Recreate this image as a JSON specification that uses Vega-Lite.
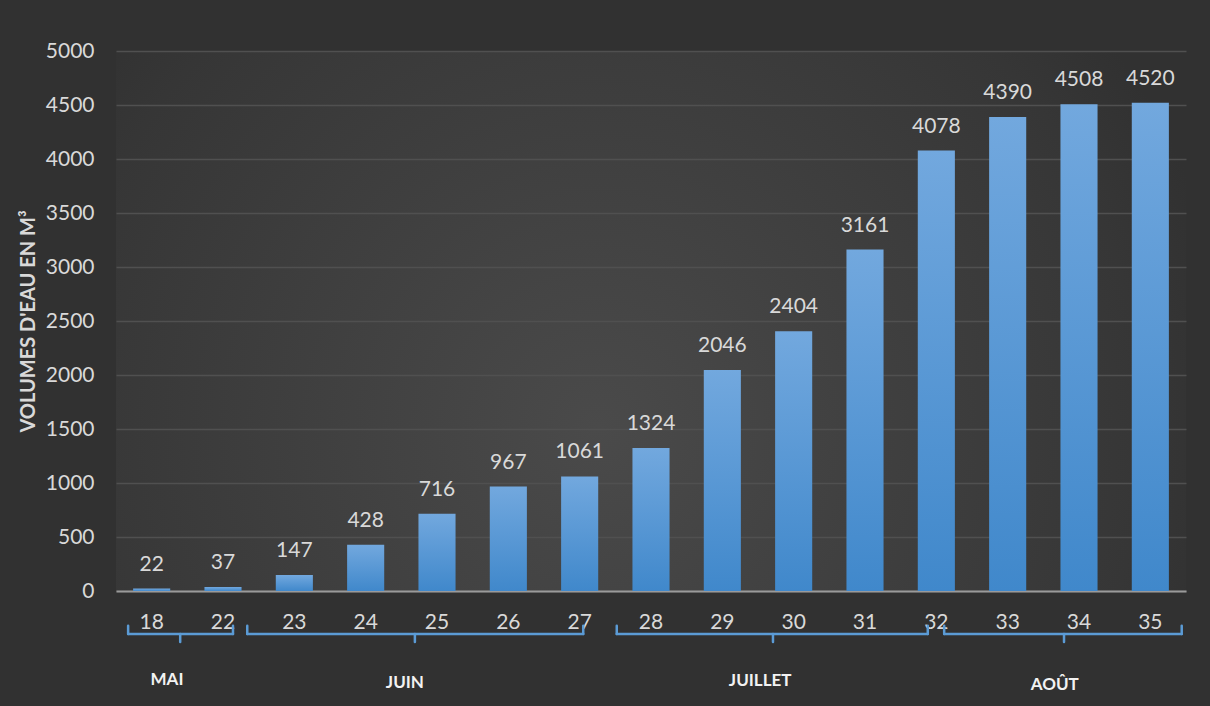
{
  "$schema": "https://vega.github.io/schema/vega-lite/v6.json",
  "width": 1070,
  "height": 540,
  "autosize": {"type": "none"},
  "padding": {"left": 116, "top": 51, "right": 24, "bottom": 115},
  "background": "#313131",
  "config": {
    "font": "Lato",
    "view": {
      "stroke": null,
      "fill": {
        "gradient": "radial",
        "x1": 0.45, "y1": 0.6, "x2": 0.45, "y2": 0.6, "r1": 0, "r2": 0.6,
        "stops": [
          {"offset": 0, "color": "#4a4a4a"},
          {"offset": 0.85, "color": "#363636"},
          {"offset": 1, "color": "#313131"}
        ]
      }
    }
  },
  "datasets": {
    "weeks": [
      {"semaine": "18", "volume": 22},
      {"semaine": "22", "volume": 37},
      {"semaine": "23", "volume": 147},
      {"semaine": "24", "volume": 428},
      {"semaine": "25", "volume": 716},
      {"semaine": "26", "volume": 967},
      {"semaine": "27", "volume": 1061},
      {"semaine": "28", "volume": 1324},
      {"semaine": "29", "volume": 2046},
      {"semaine": "30", "volume": 2404},
      {"semaine": "31", "volume": 3161},
      {"semaine": "32", "volume": 4078},
      {"semaine": "33", "volume": 4390},
      {"semaine": "34", "volume": 4508},
      {"semaine": "35", "volume": 4520}
    ],
    "braces": [
      {"mois": "MAI", "xa": 0.17, "xb": 1.64, "ya": -398, "yb": -398},
      {"mois": "MAI", "xa": 0.17, "xb": 0.17, "ya": -398, "yb": -322},
      {"mois": "MAI", "xa": 1.64, "xb": 1.64, "ya": -398, "yb": -322},
      {"mois": "MAI", "xa": 0.90, "xb": 0.90, "ya": -398, "yb": -472},
      {"mois": "JUIN", "xa": 1.84, "xb": 6.55, "ya": -398, "yb": -398},
      {"mois": "JUIN", "xa": 1.84, "xb": 1.84, "ya": -398, "yb": -322},
      {"mois": "JUIN", "xa": 6.55, "xb": 6.55, "ya": -398, "yb": -322},
      {"mois": "JUIN", "xa": 4.19, "xb": 4.19, "ya": -398, "yb": -472},
      {"mois": "JUILLET", "xa": 7.02, "xb": 11.38, "ya": -398, "yb": -398},
      {"mois": "JUILLET", "xa": 7.02, "xb": 7.02, "ya": -398, "yb": -322},
      {"mois": "JUILLET", "xa": 11.38, "xb": 11.38, "ya": -398, "yb": -322},
      {"mois": "JUILLET", "xa": 9.21, "xb": 9.21, "ya": -398, "yb": -472},
      {"mois": "AOÛT", "xa": 11.61, "xb": 14.94, "ya": -398, "yb": -398},
      {"mois": "AOÛT", "xa": 11.61, "xb": 11.61, "ya": -398, "yb": -322},
      {"mois": "AOÛT", "xa": 14.94, "xb": 14.94, "ya": -398, "yb": -322},
      {"mois": "AOÛT", "xa": 13.29, "xb": 13.29, "ya": -398, "yb": -472}
    ],
    "months": [
      {"mois": "MAI", "pos": 0.715, "niveau": -824},
      {"mois": "JUIN", "pos": 4.05, "niveau": -852},
      {"mois": "JUILLET", "pos": 9.03, "niveau": -833},
      {"mois": "AOÛT", "pos": 13.16, "niveau": -870}
    ]
  },
  "resolve": {"scale": {"x": "independent", "y": "independent"}, "axis": {"x": "independent", "y": "independent"}},
  "layer": [
    {
      "data": {"name": "weeks"},
      "encoding": {
        "x": {
          "field": "semaine", "type": "ordinal", "sort": null,
          "scale": {"paddingInner": 0.48, "paddingOuter": 0.24},
          "axis": {
            "title": null, "labelAngle": 0, "ticks": false, "grid": false,
            "domainColor": "#9a9a9a", "domainWidth": 2,
            "labelColor": "#d9d9d9", "labelFontSize": 21, "labelFont": "Lato",
            "labelBaseline": "middle", "labelPadding": 31
          }
        },
        "y": {
          "field": "volume", "type": "quantitative",
          "scale": {"domain": [0, 5000], "nice": false},
          "axis": {
            "title": "VOLUMES D'EAU EN M³",
            "titleColor": "#d9d9d9", "titleFontSize": 20, "titleFontWeight": "bold", "titleFont": "Lato",
            "titlePadding": 7,
            "format": "d",
            "values": [0, 500, 1000, 1500, 2000, 2500, 3000, 3500, 4000, 4500, 5000],
            "domain": false, "ticks": false, "labelPadding": 22,
            "labelColor": "#d9d9d9", "labelFontSize": 21, "labelFont": "Lato",
            "gridColor": "#505050", "gridWidth": 1.5
          }
        }
      },
      "layer": [
        {
          "mark": {
            "type": "bar",
            "fill": {
              "gradient": "linear", "x1": 0, "y1": 0, "x2": 0, "y2": 1,
              "stops": [
                {"offset": 0, "color": "#72a8de"},
                {"offset": 1, "color": "#4088cb"}
              ]
            }
          }
        },
        {
          "mark": {"type": "text", "baseline": "alphabetic", "dy": -18, "fontSize": 21, "color": "#d9d9d9", "font": "Lato"},
          "encoding": {"text": {"field": "volume", "type": "quantitative", "format": "d"}}
        }
      ]
    },
    {
      "encoding": {},
      "layer": [
        {
          "data": {"name": "braces"},
          "mark": {"type": "rule", "color": "#5b9bd5", "strokeWidth": 2.5, "strokeCap": "round"},
          "encoding": {
            "x": {"field": "xa", "type": "quantitative", "scale": {"domain": [0, 15], "nice": false, "zero": false}, "axis": null},
            "x2": {"field": "xb"},
            "y": {"field": "ya", "type": "quantitative", "scale": {"domain": [0, 5000], "nice": false}, "axis": null},
            "y2": {"field": "yb"}
          }
        },
        {
          "data": {"name": "months"},
          "mark": {"type": "text", "fontSize": 17, "fontWeight": "bold", "color": "#f2f2f2", "font": "Lato", "baseline": "middle"},
          "encoding": {
            "x": {"field": "pos", "type": "quantitative", "scale": {"domain": [0, 15], "nice": false, "zero": false}, "axis": null},
            "y": {"field": "niveau", "type": "quantitative", "scale": {"domain": [0, 5000], "nice": false}, "axis": null},
            "text": {"field": "mois"}
          }
        }
      ]
    }
  ]
}
